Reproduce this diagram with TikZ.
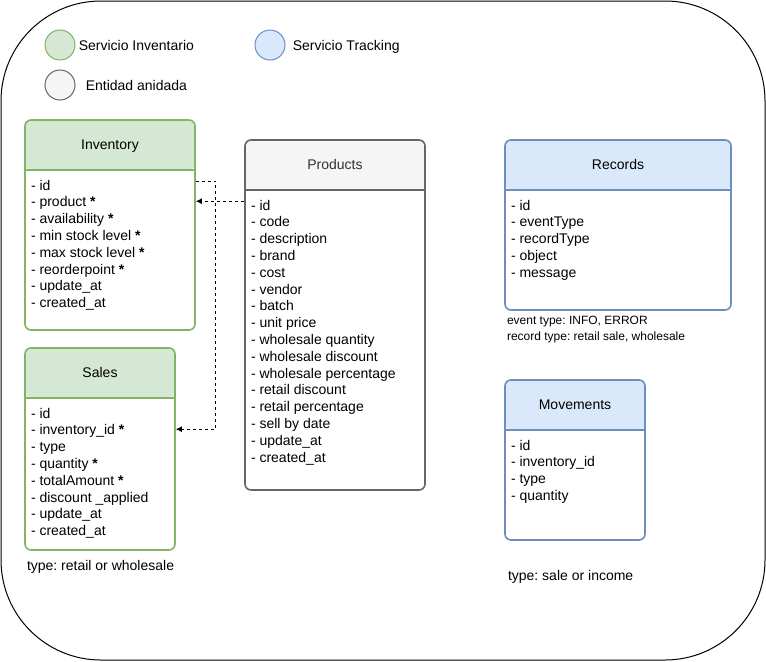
\documentclass[tikz,border=0pt]{standalone}
\usepackage{fontspec}
\setmainfont{Liberation Sans}
\usepackage{tikz}
\usetikzlibrary{arrows.meta}
\frenchspacing

\definecolor{invfill}{HTML}{D5E8D4}
\definecolor{invline}{HTML}{82B366}
\definecolor{trkfill}{HTML}{DAE8FC}
\definecolor{trkline}{HTML}{6C8EBF}
\definecolor{nestfill}{HTML}{F5F5F5}
\definecolor{nestline}{HTML}{666666}
\definecolor{nesttext}{HTML}{333333}

\begin{document}
\begin{tikzpicture}[x=0.75pt, y=-0.75pt, line width=1.2pt,
  tbl/.style={rounded corners=4.5pt, fill=white, inner sep=0pt},
  header/.style 2 args={draw=#2, path picture={
      \fill[#1] (path picture bounding box.north west) rectangle ([yshift=-37.5pt]path picture bounding box.north east);
      \draw[#2] ([yshift=-37.5pt]path picture bounding box.north west) -- ([yshift=-37.5pt]path picture bounding box.north east);}},
  head/.style={anchor=base, inner sep=0pt, font=\fontsize{10.5pt}{12.6pt}\selectfont},
  fields/.style={anchor=north west, align=left, inner sep=0pt, font=\fontsize{10.5pt}{12.6pt}\selectfont},
  note/.style={anchor=base west, inner sep=0pt, font=\fontsize{10.5pt}{12.6pt}\selectfont},
  smallnote/.style={anchor=north west, align=left, inner sep=0pt, font=\fontsize{9pt}{12pt}\selectfont},
  legend/.style={circle, minimum size=22.5pt, inner sep=0pt, line width=0.75pt},
  link/.style={draw=black, line width=0.75pt, dash pattern=on 2.25pt off 2.25pt, -{Latex[length=4.5pt,width=4.5pt]}}]

\useasboundingbox (0,0) rectangle (766,661);

% draw outer frame
\draw[line width=0.75pt, rounded corners=75pt] (1,1) rectangle (765,660);

% draw legend
\node[legend, fill=invfill, draw=invline] (leginv) at (60,45) {};
\node[note] (leginvtext) at (78,50) {Servicio Inventario};
\node[legend, fill=trkfill, draw=trkline] (legtrk) at (270,45) {};
\node[note] (legtrktext) at (292,50) {Servicio Tracking};
\node[legend, fill=nestfill, draw=nestline] (legnest) at (60,85) {};
\node[note] (legnesttext) at (85,90) {Entidad anidada};

% draw inventory service entities
\node[tbl, header={invfill}{invline}, minimum width=127.5pt, minimum height=157.5pt] (inv) at (110,225) {};
\node[head] (invtitle) at ([yshift=-22.5pt]inv.north) {Inventory};
\node[fields] (invfields) at ([xshift=4.5pt, yshift=-45pt]inv.north west)
  {- id\\ - product \textbf{*}\\ - availability \textbf{*}\\ - min stock level \textbf{*}\\
   - max stock level \textbf{*}\\ - reorderpoint \textbf{*}\\ - update\_at\\ - created\_at};

\node[tbl, header={invfill}{invline}, minimum width=112.5pt, minimum height=151.5pt] (sales) at (100,449) {};
\node[head] (salestitle) at ([yshift=-22.5pt]sales.north) {Sales};
\node[fields] (salesfields) at ([xshift=4.5pt, yshift=-45pt]sales.north west)
  {- id\\ - inventory\_id \textbf{*}\\ - type\\ - quantity \textbf{*}\\ - totalAmount \textbf{*}\\
   - discount \_applied\\ - update\_at\\ - created\_at};
\node[note] (salesnote) at ([xshift=1.5pt, yshift=-15pt]sales.south west) {type: retail or wholesale};

% draw nested entity
\node[tbl, header={nestfill}{nestline}, minimum width=135pt, minimum height=262.5pt] (prod) at (335,315) {};
\node[head, text=nesttext] (prodtitle) at ([yshift=-22.5pt]prod.north) {Products};
\node[fields] (prodfields) at ([xshift=4.5pt, yshift=-45pt]prod.north west)
  {- id\\ - code\\ - description\\ - brand\\ - cost\\ - vendor\\ - batch\\ - unit price\\
   - wholesale quantity\\ - wholesale discount\\ - wholesale percentage\\ - retail discount\\
   - retail percentage\\ - sell by date\\ - update\_at\\ - created\_at};

% draw tracking service entities
\node[tbl, header={trkfill}{trkline}, minimum width=169.5pt, minimum height=127.5pt] (rec) at (618,225) {};
\node[head] (rectitle) at ([yshift=-22.5pt]rec.north) {Records};
\node[fields] (recfields) at ([xshift=4.5pt, yshift=-45pt]rec.north west)
  {- id\\ - eventType\\ - recordType\\ - object\\ - message};
\node[smallnote] (recnote) at ([xshift=1.5pt, yshift=-3.4pt]rec.south west)
  {event type: INFO, ERROR\\ record type: retail sale, wholesale};

\node[tbl, header={trkfill}{trkline}, minimum width=105pt, minimum height=120pt] (mov) at (575,460) {};
\node[head] (movtitle) at ([yshift=-22.5pt]mov.north) {Movements};
\node[fields] (movfields) at ([xshift=4.5pt, yshift=-45pt]mov.north west)
  {- id\\ - inventory\_id\\ - type\\ - quantity};
\node[note] (movnote) at ([xshift=2.25pt, yshift=-30pt]mov.south west) {type: sale or income};

% draw links
\draw[link] ([yshift=-46.5pt]prod.north west) coordinate (prodlink) -- (prodlink -| inv.east);
\draw[link] ([yshift=-46.5pt]inv.north east) -- ++(15pt,0) |- ([yshift=-61.5pt]sales.north east);

\end{tikzpicture}
\end{document}
